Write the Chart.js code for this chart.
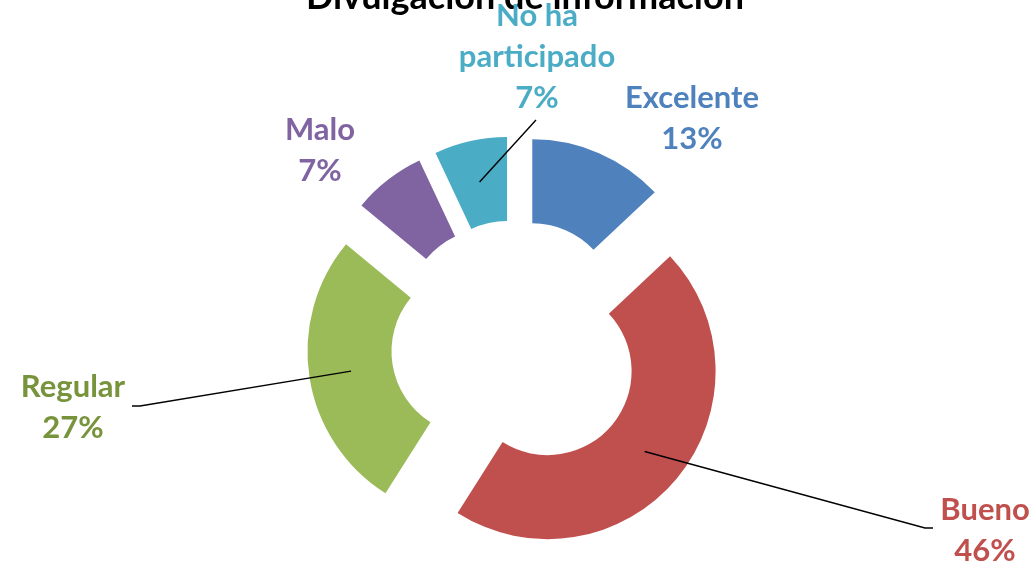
<!DOCTYPE html>
<html lang="es">
<head>
<meta charset="utf-8">
<title>Divulgación de información</title>
<script src="https://cdn.jsdelivr.net/npm/chart.js@4.4.0/dist/chart.umd.min.js"></script>
<style>
    html, body { margin: 0; padding: 0; background: #ffffff; }
    #wrap { width: 1035px; height: 564px; position: relative; }
</style>
</head>
<body>
<div id="wrap"><canvas id="divulgacionChart"></canvas></div>
<script>
// Datos de la encuesta
const chartTitle = 'Divulgación de información';
const categories = ['Excelente', 'Bueno', 'Regular', 'Malo', 'No ha participado'];
const percentages = [13, 46, 27, 7, 7];
const sliceColors = ['#4F81BD', '#C0504D', '#9BBB59', '#8064A2', '#4BACC6'];
const labelColors = ['#4F81BD', '#C0504D', '#77933C', '#8064A2', '#4BACC6'];

const EXPLODE = 41;          // separación radial de cada porción
const RADIUS = 168;
const LABEL_FONT = 'bold 31px Lato, "Open Sans", sans-serif';
const TITLE_FONT = 'bold 36px Lato, "Open Sans", sans-serif';
const LINE_HEIGHT = 41;

// Centro de cada bloque de etiqueta y recorrido de su línea guía (si tiene)
const labelLayout = [
    { x: 692, y: 118, leader: null },
    { x: 985, y: 530, leader: [[925, 528], [933, 528]] },
    { x: 73,  y: 407, leader: [[140, 406], [132, 406]] },
    { x: 320, y: 150, leader: null },
    { x: 537, y: 57,  leader: [[536, 120]] }
];

// Chart.js traslada cada arco offset/4 y además le suma offset/4 * fix
// al radio (y recorta un poco el ángulo); se compensa para que todas
// las porciones se separen igual y conserven su tamaño
function arcFix(value) {
    const circ = value / 100 * Math.PI * 2;
    return 1 - Math.sin(Math.min(Math.PI, circ));
}

function radiusShift(value) {
    return EXPLODE * arcFix(value);
}

function wrapText(ctx, text, maxWidth) {
    const words = text.split(' ');
    const lines = [];
    let current = '';
    words.forEach(w => {
        const test = current ? current + ' ' + w : w;
        if (current && ctx.measureText(test).width > maxWidth) {
            lines.push(current);
            current = w;
        } else {
            current = test;
        }
    });
    if (current) lines.push(current);
    return lines;
}

const radiusFixPlugin = {
    id: 'radiusFix',
    afterDatasetUpdate(chart, args) {
        args.meta.data.forEach((arc, i) => {
            const s = radiusShift(percentages[i]);
            const a = s / (2 * Math.PI * RADIUS);
            arc.outerRadius -= s;
            arc.innerRadius -= s;
            arc.startAngle -= a;
            arc.endAngle += a;
        });
    }
};

const labelsPlugin = {
    id: 'sliceLabels',
    afterDatasetsDraw(chart) {
        const ctx = chart.ctx;
        const meta = chart.getDatasetMeta(0);

        ctx.save();

        // Título
        ctx.font = TITLE_FONT;
        ctx.fillStyle = '#000000';
        ctx.textAlign = 'center';
        ctx.textBaseline = 'alphabetic';
        ctx.fillText(chartTitle, 525, 9);

        // Líneas guía
        ctx.strokeStyle = '#000000';
        ctx.lineWidth = 1.4;
        meta.data.forEach((arc, i) => {
            const layout = labelLayout[i];
            if (!layout.leader) return;
            const mid = (arc.startAngle + arc.endAngle) / 2;
            const s = radiusShift(percentages[i]);
            const r = (arc.outerRadius + arc.innerRadius) / 2 + s + EXPLODE;
            const ax = arc.x + Math.cos(mid) * r;
            const ay = arc.y + Math.sin(mid) * r;
            ctx.beginPath();
            ctx.moveTo(ax, ay);
            layout.leader.forEach(p => ctx.lineTo(p[0], p[1]));
            ctx.stroke();
        });

        // Etiquetas: categoría y porcentaje
        ctx.font = LABEL_FONT;
        ctx.textBaseline = 'middle';
        categories.forEach((cat, i) => {
            const layout = labelLayout[i];
            const lines = wrapText(ctx, cat, 170).concat([percentages[i] + '%']);
            const top = layout.y - (lines.length - 1) * LINE_HEIGHT / 2;
            ctx.fillStyle = labelColors[i];
            lines.forEach((line, j) => {
                ctx.fillText(line, layout.x, top + j * LINE_HEIGHT);
            });
        });

        ctx.restore();
    }
};

document.addEventListener('DOMContentLoaded', function() {
    const ctx = document.getElementById('divulgacionChart').getContext('2d');

    new Chart(ctx, {
        type: 'doughnut',
        data: {
            labels: categories,
            datasets: [{
                data: percentages,
                backgroundColor: sliceColors,
                borderWidth: 0,
                offset: 4 * EXPLODE
            }]
        },
        options: {
            responsive: true,
            maintainAspectRatio: false,
            animation: false,
            events: [],
            radius: RADIUS,
            cutout: '50%',
            layout: {
                padding: { left: 0, right: 3, top: 126, bottom: 0 }
            },
            plugins: {
                legend: { display: false },
                title: { display: false },
                tooltip: { enabled: false }
            }
        },
        plugins: [radiusFixPlugin, labelsPlugin]
    });
});
</script>
</body>
</html>
